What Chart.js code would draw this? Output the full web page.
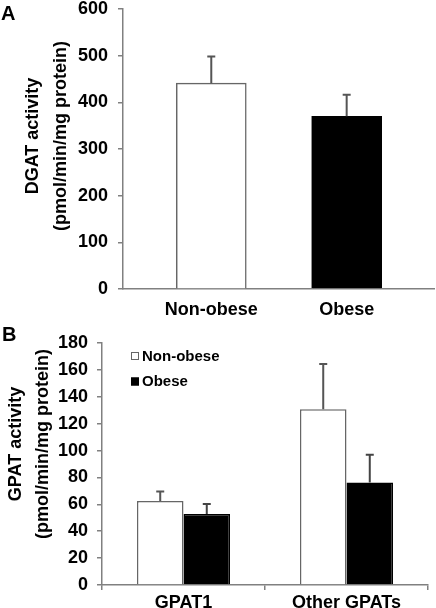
<!DOCTYPE html>
<html>
<head>
<meta charset="utf-8">
<script src="https://cdn.jsdelivr.net/npm/chart.js@4.4.0/dist/chart.umd.min.js"></script>
<style>
  body { margin: 0; background: #fff; width: 436px; height: 608px; position: relative; overflow: hidden; }
  canvas { position: absolute; left: 0; }
  #chartA { top: 0; }
  #chartB { top: 318px; }
  .panel { position: absolute; font: bold 20px "Liberation Sans", Arial, sans-serif; color: #000; }
</style>
</head>
<body>
<canvas id="chartA" width="436" height="318"></canvas>
<canvas id="chartB" width="436" height="290"></canvas>
<div class="panel" style="left:1px; top:2px;">A</div>
<div class="panel" style="left:2px; top:323px;">B</div>
<script>
// panel A: DGAT
const groupsA = ["Non-obese", "Obese"];
const dgatMean = [441, 370];
const dgatErr = [57, 46];
const ticksA = [0, 100, 200, 300, 400, 500, 600];

// panel B: GPAT
const gpatCats = ["GPAT1", "Other GPATs"];
const gpatNonObese = [62.5, 130.8];
const gpatNonObeseErr = [7, 33.5];
const gpatObese = [52.9, 76.2];
const gpatObeseErr = [7.4, 20.6];
const ticksB = [0, 20, 40, 60, 80, 100, 120, 140, 160, 180];

const FONT = "'Liberation Sans', Arial, sans-serif";
const AXIS = "#808080";
const tickFont = { family: FONT, size: 18, weight: "bold" };

// error bars (upper half only) drawn from dataset.errors
const errorBars = {
  id: "errorBars",
  afterDatasetsDraw(chart) {
    const ctx = chart.ctx;
    const yScale = chart.scales.y;
    chart.data.datasets.forEach((ds, i) => {
      if (!ds.errors) return;
      const meta = chart.getDatasetMeta(i);
      meta.data.forEach((bar, j) => {
        const v = typeof ds.data[j] === "object" ? ds.data[j].y : ds.data[j];
        const top = yScale.getPixelForValue(v + ds.errors[j]);
        ctx.save();
        ctx.strokeStyle = ds.errorColor || "#444";
        ctx.lineWidth = 2;
        ctx.beginPath();
        ctx.moveTo(bar.x, bar.y);
        ctx.lineTo(bar.x, top);
        ctx.moveTo(bar.x - 4, top);
        ctx.lineTo(bar.x + 4, top);
        ctx.stroke();
        ctx.restore();
      });
    });
  }
};

// two-line rotated y title, a bit above the plot centre like the original
const yTitle = {
  id: "yTitle",
  afterDraw(chart, args, opts) {
    const ctx = chart.ctx;
    const area = chart.chartArea;
    const cy = (area.top + area.bottom) / 2 + opts.shift;
    ctx.save();
    ctx.font = "bold 18px " + FONT;
    ctx.fillStyle = "#000";
    ctx.textAlign = "center";
    ctx.textBaseline = "middle";
    opts.lines.forEach((line, i) => {
      ctx.save();
      ctx.translate(opts.x[i], cy);
      ctx.rotate(-Math.PI / 2);
      ctx.fillText(line, 0, 0);
      ctx.restore();
    });
    ctx.restore();
  }
};

// legend inside the plot, top-left
const insideLegend = {
  id: "insideLegend",
  afterDraw(chart) {
    const ctx = chart.ctx;
    const area = chart.chartArea;
    ctx.save();
    ctx.font = "bold 15px " + FONT;
    ctx.textBaseline = "middle";
    chart.data.datasets.forEach((ds, i) => {
      const cy = area.top + 13 + i * 25.5;
      const bx = area.left + 29;
      ctx.fillStyle = ds.backgroundColor;
      ctx.fillRect(bx, cy - 4, 8, 8);
      ctx.strokeStyle = ds.borderColor;
      ctx.lineWidth = 1;
      ctx.strokeRect(bx + 0.5, cy - 3.5, 7, 7);
      ctx.fillStyle = "#000";
      ctx.fillText(ds.label, bx + 11, cy + 0.5);
    });
    ctx.restore();
  }
};

new Chart(document.getElementById("chartA"), {
  type: "bar",
  data: {
    datasets: [{
      label: "DGAT activity",
      data: dgatMean.map((v, i) => ({ x: i, y: v })),
      errors: dgatErr,
      backgroundColor: ["#ffffff", "#000000"],
      borderColor: ["#666666", "#000000"],
      borderWidth: 1.5,
      barThickness: 70,
      errorColor: "#555"
    }]
  },
  options: {
    responsive: false,
    animation: false,
    layout: { padding: { top: 9, right: 2, left: 0, bottom: 0 } },
    plugins: {
      legend: { display: false },
      tooltip: { enabled: false },
      yTitle: { lines: ["DGAT activity", "(pmol/min/mg protein)"], x: [33, 61], shift: -13 }
    },
    scales: {
      x: {
        type: "linear",
        offset: false,
        min: -0.652,
        max: 1.645,
        afterBuildTicks: (s) => { s.ticks = groupsA.map((_, i) => ({ value: i })); },
        afterFit: (s) => { s.height = 29; s.paddingLeft = 0; s.paddingRight = 0; },
        ticks: {
          callback: (v) => groupsA[v],
          font: tickFont,
          color: "#000",
          padding: 10,
          maxRotation: 0
        },
        grid: { drawOnChartArea: false, drawTicks: false },
        border: { color: AXIS, width: 1.5 }
      },
      y: {
        min: 0,
        max: 600,
        afterBuildTicks: (s) => { s.ticks = ticksA.map((v) => ({ value: v })); },
        afterFit: (s) => { s.width = 123; s.paddingTop = 0; s.paddingBottom = 0; },
        ticks: { font: tickFont, color: "#000", padding: 10 },
        grid: { drawOnChartArea: false, tickLength: 5, color: AXIS, lineWidth: 1.5 },
        border: { color: AXIS, width: 1.5 }
      }
    }
  },
  plugins: [errorBars, yTitle]
});

new Chart(document.getElementById("chartB"), {
  type: "bar",
  data: {
    labels: gpatCats,
    datasets: [
      {
        label: "Non-obese",
        data: gpatNonObese,
        errors: gpatNonObeseErr,
        backgroundColor: "#ffffff",
        borderColor: "#666666",
        borderWidth: 1.5,
        errorColor: "#555"
      },
      {
        label: "Obese",
        data: gpatObese,
        errors: gpatObeseErr,
        backgroundColor: "#000000",
        borderColor: "#000000",
        borderWidth: 1.5,
        errorColor: "#444"
      }
    ]
  },
  options: {
    responsive: false,
    animation: false,
    layout: { padding: { top: 25, right: 8, left: 0, bottom: 0 } },
    datasets: { bar: { categoryPercentage: 0.571, barPercentage: 1 } },
    plugins: {
      legend: { display: false },
      tooltip: { enabled: false },
      yTitle: { lines: ["GPAT activity", "(pmol/min/mg protein)"], x: [16.5, 43.5], shift: -20 }
    },
    scales: {
      x: {
        afterFit: (s) => { s.height = 23; s.paddingLeft = 0; s.paddingRight = 0; },
        ticks: { font: tickFont, color: "#000", padding: 2, maxRotation: 0 },
        grid: { drawOnChartArea: false, tickLength: 5, color: AXIS, lineWidth: 1.5 },
        border: { color: AXIS, width: 1.5 }
      },
      y: {
        min: 0,
        max: 180,
        afterBuildTicks: (s) => { s.ticks = ticksB.map((v) => ({ value: v })); },
        afterFit: (s) => { s.width = 102; s.paddingTop = 0; s.paddingBottom = 0; },
        ticks: { font: tickFont, color: "#000", padding: 9 },
        grid: { drawOnChartArea: false, tickLength: 5, color: AXIS, lineWidth: 1.5 },
        border: { color: AXIS, width: 1.5 }
      }
    }
  },
  plugins: [errorBars, yTitle, insideLegend]
});
</script>
</body>
</html>
